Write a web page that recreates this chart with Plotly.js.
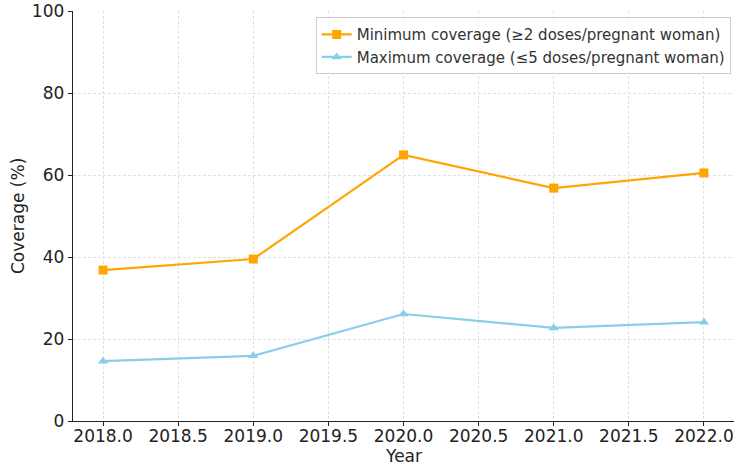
<!DOCTYPE html>
<html>
<head>
<meta charset="utf-8">
<script src="https://cdn.plot.ly/plotly-3.0.1.min.js"></script>
<style>
  html, body { margin: 0; padding: 0; background: #fff; }
  #chart { width: 750px; height: 465px; }
</style>
</head>
<body>
<div id="chart"></div>
<script>
// Antenatal dose coverage by year
const years = [2018, 2019, 2020, 2021, 2022];
const minCoverage = [36.8, 39.5, 64.9, 56.8, 60.5];
const maxCoverage = [14.6, 15.9, 26.1, 22.7, 24.1];
const seriesNames = [
  "Minimum coverage (≥2 doses/pregnant woman)",
  "Maximum coverage (≤5 doses/pregnant woman)"
];
const xTicks = [2018, 2018.5, 2019, 2019.5, 2020, 2020.5, 2021, 2021.5, 2022];
const yTicks = [0, 20, 40, 60, 80, 100];
const xTitle = "Year";
const yTitle = "Coverage (%)";

const font = "DejaVu Sans, sans-serif";

const traces = [
  {
    x: years, y: minCoverage, name: seriesNames[0],
    type: "scatter", mode: "lines+markers",
    line: { color: "#FFA500", width: 2.2 },
    marker: { symbol: "square", size: 9, color: "#FFA500" }
  },
  {
    x: years, y: maxCoverage, name: seriesNames[1],
    type: "scatter", mode: "lines+markers",
    line: { color: "#87CEEB", width: 2.2 },
    marker: { symbol: "triangle-up", size: 9, color: "#87CEEB" }
  }
];

const axisCommon = {
  showline: true, linecolor: "#222", linewidth: 1.3,
  ticks: "outside", ticklen: 4, tickwidth: 1, tickcolor: "#222",
  showgrid: true, gridcolor: "#d9d9d9", griddash: "3px,2px", gridwidth: 0.8,
  zeroline: false, mirror: false, automargin: false,
  tickfont: { family: font, size: 17, color: "#222" }
};

const layout = {
  width: 750, height: 465,
  margin: { l: 73, r: 16, t: 11, b: 44 },
  paper_bgcolor: "#fff", plot_bgcolor: "#fff",
  font: { family: font, color: "#222" },
  showlegend: true,
  legend: {
    x: 0.995, xanchor: "right", y: 0.985, yanchor: "top",
    bgcolor: "rgba(255,255,255,0.8)", bordercolor: "#cccccc", borderwidth: 1,
    font: { family: font, size: 15, color: "#333" },
    tracegroupgap: 0
  },
  xaxis: Object.assign({}, axisCommon, {
    range: [2017.8, 2022.2],
    tickvals: xTicks,
    ticktext: xTicks.map(v => v.toFixed(1)),
    ticklabelstandoff: -5
  }),
  yaxis: Object.assign({}, axisCommon, {
    range: [0, 100],
    tickvals: yTicks
  }),
  annotations: [
    {
      text: xTitle, xref: "paper", yref: "paper", x: 0.5, y: 0,
      xanchor: "center", yanchor: "middle", yshift: -35, showarrow: false,
      font: { family: font, size: 17, color: "#222" }
    },
    {
      text: yTitle, xref: "paper", yref: "paper", x: 0, y: 0.5,
      xanchor: "center", yanchor: "middle", xshift: -55, textangle: -90, showarrow: false,
      font: { family: font, size: 17, color: "#222" }
    }
  ]
};

Plotly.newPlot("chart", traces, layout, { displayModeBar: false, staticPlot: true });
</script>
</body>
</html>
